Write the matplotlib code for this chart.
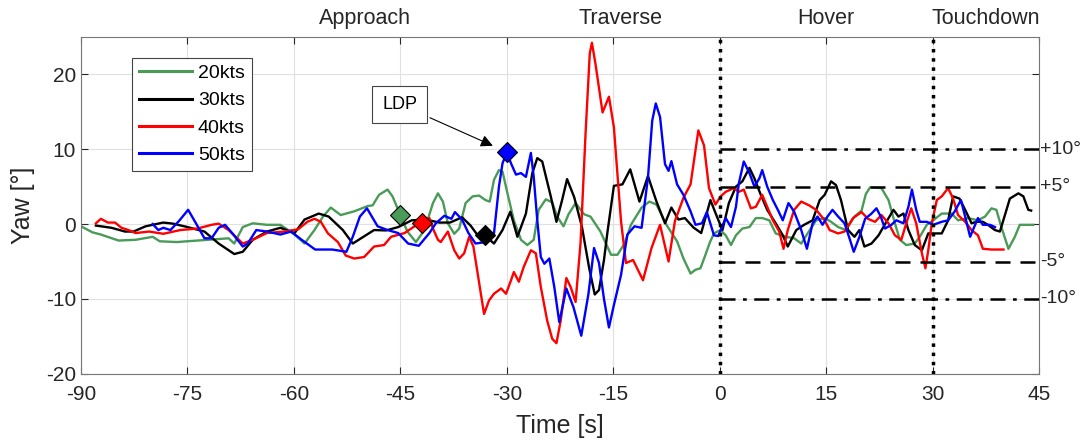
import matplotlib.pyplot as plt

plt.rcParams['font.family'] = ['Liberation Sans', 'DejaVu Sans']
plt.rcParams['axes.unicode_minus'] = False

# yaw traces (time [s], yaw [deg])
t20 = [-90, -88.4, -87.2, -84.7, -82.3, -79.9, -78.9, -76.5, -73.6, -70.6, -69.2, -68.4, -67.2, -65.8,
       -63.8, -61.9, -59.9, -58.5, -57.1, -55.9, -54.8, -53.4, -51.5, -49.6, -48.9, -48.0, -46.8, -46.1,
       -45.0, -44.0, -42.8, -41.6, -40.4, -39.7, -39.0, -38.3, -37.4, -36.7, -35.8, -34.8, -33.9, -33.0,
       -32.4, -31.8, -31.1, -30.6, -29.9, -29.0, -28.0, -27.1, -26.2, -25.5, -24.5, -23.6, -22.9, -22.0,
       -21.3, -20.3, -19.1, -18.2, -16.8, -15.3, -14.4, -13.4, -12.5, -11.0, -9.9, -8.9, -7.5, -6.0,
       -5.1, -4.1, -3.4, -2.7, -2.0, -1.4, -0.8, 0.1, 0.85, 1.6, 2.3, 3.2, 4.2, 5.1, 6.0, 7.0, 7.9, 9.3,
       10.5, 11.5, 12.4, 13.6, 14.8, 15.7, 16.7, 17.8, 19.0, 20.0, 20.6, 21.2, 22.8, 23.8, 24.7, 25.4,
       26.3, 27.5, 28.2, 29.2, 30.1, 31.3, 32.7, 33.6, 35.0, 36.4, 37.4, 38.3, 39.0, 39.7, 40.7, 41.6,
       42.3, 43.2, 44.2]
yaw20 = [-0.3, -1.1, -1.4, -2.2, -2.1, -1.7, -2.3, -2.4, -2.2, -2.0, -1.9, -2.6, -0.4, 0.1,
         -0.1, -0.1, -1.4, -2.6, -0.8, 1.0, 2.2, 1.2, 1.7, 2.4, 2.5, 3.9, 4.6, 3.7,
         1.2, -1.0, -2.4, -0.8, 2.8, 4.1, 3.0, 0.1, -1.3, -0.6, 2.8, 3.7, 3.8, 3.2,
         3.0, 5.9, 7.2, 7.0, 4.1, 0.5, -2.1, -2.8, -2.1, 1.9, 3.3, 2.9, 1.0, -0.3,
         1.3, 2.8, 1.3, 1.0, -1.0, -4.1, -4.1, -2.6, -0.1, 2.2, 3.0, 2.6, -0.1, -2.3,
         -4.6, -6.6, -6.1, -5.9, -4.1, -2.5, -1.25, -0.8, -1.5, -2.8, -1.5, -0.6, -0.4, 0.8, 0.8, 0.5, -1.25, -1.7,
         -1.9, -2.6, -1.25, 0.5, 0.8, 0.3, -0.4, -0.8, 1.0, 1.8, 4.0, 4.9, 4.8, 3.2, 0.1, -2.1,
         -2.8, -2.6, -1.7, -0.1, 0.5, 1.4, 1.4, 0.5, 0.8, 0.5, 1.0, 2.1, 1.9, -0.4, -3.3, -1.7,
         -0.1, -0.1, -0.1]

t30 = [-87.9, -85.7, -83.8, -82.6, -80.9, -78.4, -77.0, -75.0, -72.6, -70.6, -68.4, -67.2, -65.8, -63.8,
       -61.9, -59.9, -58.5, -56.5, -55.1, -53.1, -51.7, -50.2, -48.7, -47.0, -45.3, -43.4, -41.4, -39.5,
       -38.0, -36.3, -35.1, -34.1, -33.1, -31.8, -30.6, -29.5, -28.5, -27.3, -26.4, -25.7, -25.0, -23.8,
       -23.0, -22.2, -21.5, -20.5, -19.4, -18.4, -17.6, -17.0, -16.3, -15.8, -14.9, -13.7, -12.6, -11.3,
       -10.1, -8.9, -7.7, -6.8, -5.8, -4.9, -3.7, -2.6, -1.3, -0.3, 0.4, 1.3, 2.3, 3.2, 4.2, 4.9, 5.8,
       6.7, 7.9, 8.9, 9.6, 10.8, 11.9, 13.1, 14.1, 14.8, 15.7, 16.4, 17.1, 18.1, 19.0, 19.7, 20.4, 21.4,
       22.4, 23.5, 24.5, 25.2, 25.9, 26.6, 27.5, 28.5, 29.4, 30.3, 31.3, 32.2, 32.9, 33.8, 34.6, 35.5,
       36.2, 37.1, 37.8, 38.8, 39.5, 40.2, 40.9, 42.1, 42.8, 43.5, 43.9]
yaw30 = [-0.2, -0.5, -1.0, -1.0, -0.3, 0.2, 0.05, -0.4, -1.0, -2.6, -4.0, -3.7, -2.1, -1.0,
         -0.5, -1.2, 0.6, 1.4, 1.0, -0.8, -2.6, -1.7, -0.8, -0.85, -0.4, 0.5, 0.6, 0.2,
         0.2, 0.9, -0.2, -1.5, -1.5, -2.6, -0.8, 1.65, -1.7, 1.4, 6.8, 8.8, 8.35, 3.7,
         0.3, 3.2, 6.0, 3.6, -0.4, -5.8, -9.4, -8.8, -4.8, -1.0, 5.1, 5.3, 7.3, 3.0,
         6.4, 3.0, 0.1, 2.2, 0.6, 0.8, -0.45, -1.2, 3.2, 0.8, -0.8, 2.8, 5.0, 5.7, 7.5, 6.1, 3.9,
         1.9, 0.1, -1.5, -3.0, -0.8, -0.1, 0.5, 3.2, 3.9, 5.7, 5.2, 3.2, -0.8, -1.7, -0.8, -3.0, -2.6,
         -1.5, 0.3, 1.9, 1.0, 1.4, -0.8, -2.8, -3.5, -1.25, -1.25, -1.25, 0.5, 3.7, 3.4, 1.9, 0.1,
         0.3, 0.3, -0.1, -0.8, -1.0, 1.2, 3.4, 4.1, 3.7, 1.9, 1.8]

t40 = [-87.9, -87.2, -86.2, -85.2, -84.3, -83.3, -82.3, -80.4, -78.4, -76.0, -73.6, -71.6, -70.6, -69.2,
       -67.2, -65.8, -63.8, -61.4, -59.4, -58.1, -57.1, -56.2, -55.2, -53.8, -52.7, -51.5, -50.1, -48.7,
       -47.3, -46.3, -44.4, -43.0, -42.0, -40.9, -40.4, -39.7, -39.3, -38.3, -37.4, -36.7, -36.0, -35.3,
       -34.7, -34.2, -33.2, -32.5, -31.8, -30.8, -30.1, -29.4, -29.0, -28.3, -27.6, -26.6, -25.9, -25.2,
       -24.3, -23.6, -23.0, -22.4, -21.6, -21.0, -20.3, -19.6, -18.9, -18.3, -18.0, -17.5, -16.5, -15.6,
       -14.9, -13.9, -13.2, -12.2, -10.8, -9.6, -8.4, -7.2, -6.3, -5.1, -4.1, -3.0, -2.2, -1.5, -0.6,
       0.15, 0.85, 2.0, 2.7, 3.4, 4.4, 5.1, 6.0, 6.7, 7.5, 8.4, 9.0, 9.6, 10.5, 11.5, 12.6, 13.6, 14.8,
       15.5, 16.7, 17.6, 18.8, 20.0, 20.9, 21.9, 22.8, 23.8, 24.7, 25.6, 26.3, 27.0, 27.7, 28.5, 29.0,
       29.4, 29.9, 30.6, 31.3, 32.2, 32.9, 33.6, 34.6, 35.5, 36.4, 37.1, 38.3, 40.0]
yaw40 = [0.1, 0.7, 0.2, 0.2, -0.5, -0.8, -1.2, -1.0, -1.3, -0.8, -0.6, -0.1, 0.05, -0.8,
         -2.6, -2.1, -1.2, -1.0, -0.7, 0.3, 0.7, 0.3, -1.25, -2.4, -4.2, -4.6, -4.4, -3.0,
         -2.8, -1.7, -1.2, -0.3, 0.2, 0.8, -0.6, -2.1, -2.4, -1.0, -3.5, -4.6, -3.9, -1.7,
         -3.0, -6.0, -12.0, -10.2, -9.3, -8.6, -9.3, -7.5, -6.4, -7.7, -5.7, -3.5, -3.9, -8.4,
         -12.9, -15.3, -15.9, -12.9, -7.2, -8.4, -10.4, -2.5, 12.0, 22.8, 24.2, 21.4, 14.9, 17.0,
         12.9, 0.4, -5.2, -4.8, -7.5, -3.2, -0.1, -5.0, 0.4, 3.5, 5.3, 12.5, 10.5, 4.8, 2.6,
         3.7, 4.3, 4.8, 4.3, 4.6, 2.1, 2.3, 3.9, 2.3, 0.5, -1.0, -3.3, -0.8, 1.9, 3.0, 2.5, 1.9, 0.5,
         -0.8, -1.25, -1.0, 0.8, 1.6, 0.7, 0.3, 1.2, 0.1, -1.5, -2.1, 0.1, 2.1, 0.1, -3.9, -5.9,
         -3.5, 0.1, 3.2, 3.7, 4.8, 3.4, 1.2, 0.3, -0.8, -1.5, -3.3, -3.4, -3.4]

t50 = [-79.9, -79.1, -78.4, -77.4, -76.2, -74.9, -73.8, -72.6, -71.6, -70.6, -69.7, -68.7, -67.2, -66.5,
       -65.3, -63.8, -61.9, -60.4, -58.9, -57.0, -54.6, -52.6, -51.7, -50.7, -49.7, -48.2, -46.8, -45.3,
       -43.9, -42.4, -40.9, -40.0, -38.8, -37.8, -37.3, -36.3, -35.4, -34.4, -33.0, -31.8, -31.1, -30.6,
       -30.0, -29.4, -28.7, -28.0, -27.3, -26.6, -26.2, -25.7, -25.2, -24.7, -24.0, -23.3, -22.6, -21.6,
       -20.6, -19.5, -18.5, -17.7, -17.0, -16.3, -15.6, -14.9, -13.9, -13.0, -12.0, -11.0, -10.1, -9.5,
       -9.0, -8.4, -7.7, -7.2, -6.8, -6.0, -5.1, -4.1, -3.4, -2.5, -1.8, -0.8, -0.2, 0.15, 0.85, 1.6,
       2.3, 2.7, 3.4, 4.2, 4.9, 5.6, 6.0, 6.7, 7.5, 8.2, 8.9, 9.7, 10.5, 11.5, 12.3, 13.1, 13.8, 14.5,
       15.2, 15.9, 16.7, 17.6, 18.3, 18.9, 19.7, 20.5, 21.4, 22.1, 22.7, 23.3, 24.2, 24.9, 25.9, 26.6,
       27.1, 27.7, 28.2, 29.2, 30.1, 31.3, 32.2, 33.1, 34.0, 34.6, 35.3, 36.0, 36.4, 37.1, 38.1, 38.8]
yaw50 = [0.0, -0.8, -0.5, -0.8, 0.4, 1.9, 0.1, -1.9, -1.9, -0.5, -0.1, -1.2, -3.0, -2.6,
         -0.8, -1.0, -1.4, -1.0, -2.1, -3.4, -3.4, -3.7, -1.7, 1.0, 2.1, -0.3, -0.8, -1.2,
         -2.6, -2.9, -1.2, 0.1, 1.1, 0.7, 1.6, 0.6, -1.2, -2.6, -2.4, -1.25, 5.0, 8.1,
         9.6, 8.1, 6.6, 6.8, 6.3, 9.5, 6.3, 0.5, -4.4, -5.3, -4.6, -8.4, -13.1, -8.6,
         -11.1, -14.9, -9.4, -3.2, -5.2, -10.0, -13.8, -10.8, -6.8, -1.4, -0.3, -0.5, 6.2, 13.8,
         16.1, 14.3, 8.0, 7.1, 8.4, 5.3, 3.9, 1.7, -0.1, 0.1, 1.6, -1.5, -1.6, -0.8, 0.8, -0.4,
         2.3, 5.4, 8.35, 6.8, 5.0, 6.1, 7.2, 5.0, 3.2, 1.9, 0.5, 2.8, 1.65, -0.8, -3.3, 0.1, 1.0, -0.1,
         1.0, 1.9, 1.0, 0.1, -1.9, -3.7, -1.7, 0.7, 1.4, 2.1, 1.0, -0.6, -0.1, 0.5, 0.1, 2.3,
         4.6, 1.9, 0.3, 0.3, -0.1, 0.3, 0.5, 1.65, 3.2, 1.0, -1.7, -0.1, 0.8, -0.1, -0.1, -0.4]

# LDP markers, one per speed (20, 30, 40, 50 kts)
ldp_t = [-45, -33, -42, -30]
ldp_yaw = [1.2, -1.5, 0.2, 9.6]

speeds = ['20kts', '30kts', '40kts', '50kts']
colors = ['#4a9a58', 'k', 'r', 'b']
phases = ['Approach', 'Traverse', 'Hover', 'Touchdown']
phase_t = [-50, -14, 15, 37.5]
bands = [10, 5, -5, -10]
band_labels = ['+10°', '+5°', '-5°', '-10°']

fig = plt.figure(figsize=(10.8, 4.43), dpi=100)
ax = fig.add_axes([0.075, 0.156, 0.887, 0.761])

series = [(t20, yaw20), (t30, yaw30), (t40, yaw40), (t50, yaw50)]
for (t, y), c, lab in zip(series, colors, speeds):
    ax.plot(t, y, color=c, lw=1.7, label=lab, solid_joinstyle='round')

for x, y, c in zip(ldp_t, ldp_yaw, colors):
    ax.plot(x, y, marker='D', ms=10, color=c, mec='k', mew=0.8, zorder=5)

# phase boundaries and tolerance bands
for x in [0, 30]:
    ax.axvline(x, color='k', ls=':', lw=2.5, zorder=4)
for b, lab in zip(bands, band_labels):
    ls = (0, (6, 3, 1.5, 3)) if abs(b) == 10 else (0, (6, 4))
    ax.plot([0, 45], [b, b], color='k', ls=ls, lw=1.8, zorder=4)
    ax.text(45.2, b, lab, fontsize=14, va='center', ha='left', color='#262626')

for x, lab in zip(phase_t, phases):
    ax.text(x, 27.4, lab, fontsize=15.5, ha='center', va='center', color='#262626')

ax.annotate('LDP', xy=(-31.6, 10.3), xytext=(-45.1, 16.0), fontsize=13,
            ha='center', va='center',
            bbox=dict(boxstyle='square,pad=0.55', fc='white', ec='#444444', lw=0.8),
            arrowprops=dict(arrowstyle='-|>', color='k', lw=0.8, mutation_scale=18))

ax.set_xlim(-90, 45)
ax.set_ylim(-20, 25)
ax.set_xticks(range(-90, 46, 15))
ax.set_yticks([-20, -10, 0, 10, 20])
ax.tick_params(direction='in', top=True, right=True, labelsize=15, length=5,
               color='#262626', labelcolor='#262626')
ax.tick_params(axis='x', pad=8)
ax.grid(True, color='#e0e0e0', lw=0.8)
for s in ax.spines.values():
    s.set_color('#777777')
ax.set_xlabel('Time [s]', fontsize=18, color='#262626', labelpad=7)
ax.set_ylabel('Yaw [°]', fontsize=18, color='#262626', labelpad=8)

leg = ax.legend(loc='upper left', bbox_to_anchor=(0.053, 0.938), fontsize=14,
                handlelength=2.75, fancybox=False, edgecolor='#444444', framealpha=1,
                borderpad=0.35, labelspacing=0.5, handletextpad=0.3, borderaxespad=0)
leg.get_frame().set_linewidth(0.8)
for h in leg.get_lines():
    h.set_linewidth(2.2)

fig.savefig('out.png', dpi=100)
